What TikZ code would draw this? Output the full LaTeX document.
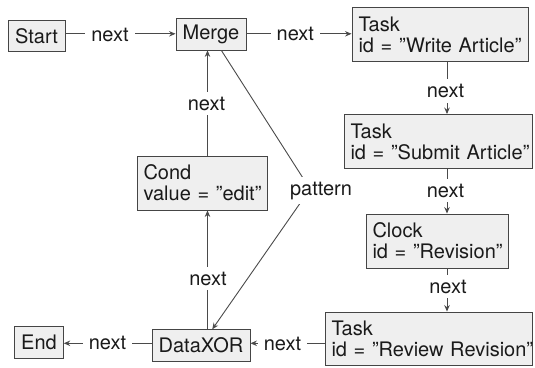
\documentclass[tikz,border=0pt]{standalone}
\usepackage{fontspec}
\setmainfont{TeX Gyre Heros}
\usetikzlibrary{arrows.meta}
\definecolor{boxfill}{HTML}{EFEFEF}
\definecolor{boxline}{HTML}{454545}
\definecolor{linegray}{HTML}{4A4A4A}
\definecolor{ink}{HTML}{1A1A1A}

\begin{document}
\begin{tikzpicture}[x=1pt,y=-1pt,
  every node/.style={font=\fontsize{20}{21}\selectfont, text=ink},
  elem/.style={draw=boxline, fill=boxfill, line width=0.9pt,
    inner xsep=6.5pt, inner ysep=0pt, minimum height=31.5pt},
  elem2/.style={elem, minimum height=54pt, align=left},
  lbl/.style={fill=white, inner xsep=6pt, inner ysep=5pt, anchor=base},
  conn/.style={draw=linegray, line width=0.9pt},
  arr/.style={conn, -{Stealth[length=6.5pt,width=5.5pt,inset=2.2pt]}}]

\useasboundingbox (0,0) rectangle (535,367);

% element boxes (each text line kept whole with \mbox)
\node[elem, minimum width=57pt] (start) at (36.5,35.8) {Start};
\node[elem, minimum width=70pt] (merge) at (211,34.2) {Merge};
\node[elem2, text width=163pt] (write) at (440,34.5)
  {\mbox{Task}\\\mbox{id = ”Write Article”}};
\node[elem2, text width=175pt] (submit) at (438,141.5)
  {\mbox{Task}\\\mbox{id = ”Submit Article”}};
\node[elem2, text width=129pt] (clock) at (437,241)
  {\mbox{Clock}\\\mbox{id = ”Revision”}};
\node[elem2, text width=194pt, minimum height=53pt] (review) at (428.5,338.5)
  {\mbox{Task}\\\mbox{id = ”Review Revision”}};
\node[elem, minimum width=98pt] (xor) at (201,345.5) {DataXOR};
\node[elem, minimum width=48pt] (end) at (39,342.5) {End};
\node[elem2, text width=117pt] (cond) at (202,183)
  {\mbox{Cond}\\\mbox{value = ”edit”}};

% guide lines for the connector rows and columns
\coordinate (rowT) at (0,33.8);
\coordinate (rowB) at (0,343.3);
\coordinate (colL) at (207.5,0);
\coordinate (colR) at (447,0);
\coordinate (bend) at (310,189);

% connectors
\draw[arr] (start.east |- rowT) -- (merge.west |- rowT);
\draw[arr] (merge.east |- rowT) -- (write.west |- rowT);
\draw[arr] (write.south -| colR) -- (submit.north -| colR);
\draw[arr] (submit.south -| colR) -- (clock.north -| colR);
\draw[arr] (clock.south -| colR) -- (review.north -| colR);
\draw[arr] (review.west |- rowB) -- (xor.east |- rowB);
\draw[arr] (xor.west |- rowB) -- (end.east |- rowB);
\draw[arr] (xor.north -| colL) -- (cond.south -| colL);
\draw[arr] (cond.north -| colL) -- (merge.south -| colL);
\draw[arr] (merge) -- (bend) -- (xor);

% connector labels
\node[lbl] (n1) at (110,41) {next};
\node[lbl] (n2) at (295.3,40.5) {next};
\node[lbl] (n3) at (445.5,97.5) {next};
\node[lbl] (n4) at (445.5,197) {next};
\node[lbl] (n5) at (448,293) {next};
\node[lbl] (n6) at (282.5,350) {next};
\node[lbl] (n7) at (107.5,349.5) {next};
\node[lbl] (n8) at (208,285) {next};
\node[lbl] (n9) at (206.5,110) {next};
\node[lbl] (pat) at (321,195) {pattern};
\end{tikzpicture}
\end{document}
